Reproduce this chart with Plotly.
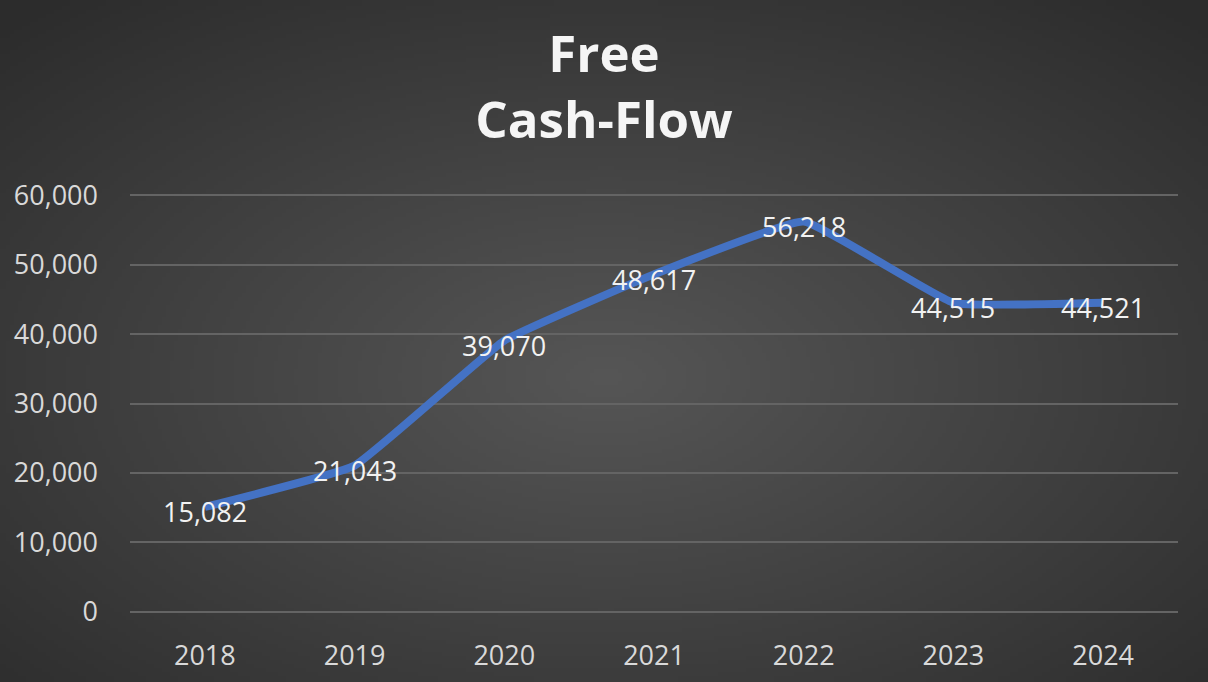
import base64, struct, zlib
import numpy as np
import plotly.graph_objects as go

years = ["2018", "2019", "2020", "2021", "2022", "2023", "2024"]
fcf = [15082, 21043, 39070, 48617, 56218, 44515, 44521]
y_ticks = [0, 10000, 20000, 30000, 40000, 50000, 60000]
title_text = "Free<br>Cash-Flow"

W, H = 1208, 682
ML, MR, MT, MB = 130, 30, 194, 69

# radial gradient background as a small grayscale PNG
gw, gh = 302, 171
yy, xx = np.mgrid[0:gh, 0:gw]
cx, cy = gw * 0.5, gh * 0.55
d = np.sqrt(((xx - cx) / (gw / 2)) ** 2 + ((yy - cy) / (gh / 2)) ** 2)
val = np.clip(86 - 29 * d, 44, 90).astype(np.uint8)
raw = b"".join(b"\x00" + val[r].tobytes() for r in range(gh))
def chunk(t, data):
    c = struct.pack(">I", len(data)) + t + data
    return c + struct.pack(">I", zlib.crc32(t + data) & 0xffffffff)
png = b"\x89PNG\r\n\x1a\n" + chunk(b"IHDR", struct.pack(">IIBBBBB", gw, gh, 8, 0, 0, 0, 0)) \
    + chunk(b"IDAT", zlib.compress(raw, 9)) + chunk(b"IEND", b"")
uri = "data:image/png;base64," + base64.b64encode(png).decode()

pw, ph = W - ML - MR, H - MT - MB

fig = go.Figure()
fig.add_trace(go.Scatter(
    x=years, y=fcf, mode="lines",
    line=dict(color="#4472C4", width=8, shape="spline", smoothing=0.3),
    cliponaxis=False, hoverinfo="skip", showlegend=False,
))
for i, v in enumerate(fcf):
    fig.add_annotation(x=i, y=v, xref="x", yref="y", text=f"{v:,}", showarrow=False, yshift=-5,
                       font=dict(family="Open Sans", size=27, color="#f2f2f2"))

fig.add_layout_image(dict(
    source=uri, xref="paper", yref="paper",
    x=-ML / pw, y=1 + MT / ph, sizex=W / pw, sizey=H / ph,
    sizing="stretch", xanchor="left", yanchor="top", layer="below",
))

fig.update_layout(
    width=W, height=H,
    margin=dict(l=ML, r=MR, t=MT, b=MB, autoexpand=False),
    paper_bgcolor="#2e2e2e", plot_bgcolor="rgba(0,0,0,0)",
    title=dict(text=title_text, x=0.5, xanchor="center", y=1 - 72 / H, yanchor="top",
               font=dict(family="Open Sans", size=51, color="#f5f5f5", weight="bold")),
    xaxis=dict(type="category", range=[-0.5, 6.5], showgrid=False, zeroline=False, automargin=False,
               showline=False, ticks="", tickfont=dict(family="Open Sans", size=27, color="#d9d9d9"),
               ticklabelstandoff=24),
    yaxis=dict(range=[-200, 60200], tickvals=y_ticks, tickformat=",", showgrid=True, automargin=False,
               gridcolor="#646464", gridwidth=2, zeroline=False, showline=False, ticks="",
               tickfont=dict(family="Open Sans", size=27, color="#d9d9d9"), ticklabelstandoff=31),
)

fig.write_html("out.html", config={"displayModeBar": False},
               post_script="document.body.style.margin='0';document.body.style.overflow='hidden';")
